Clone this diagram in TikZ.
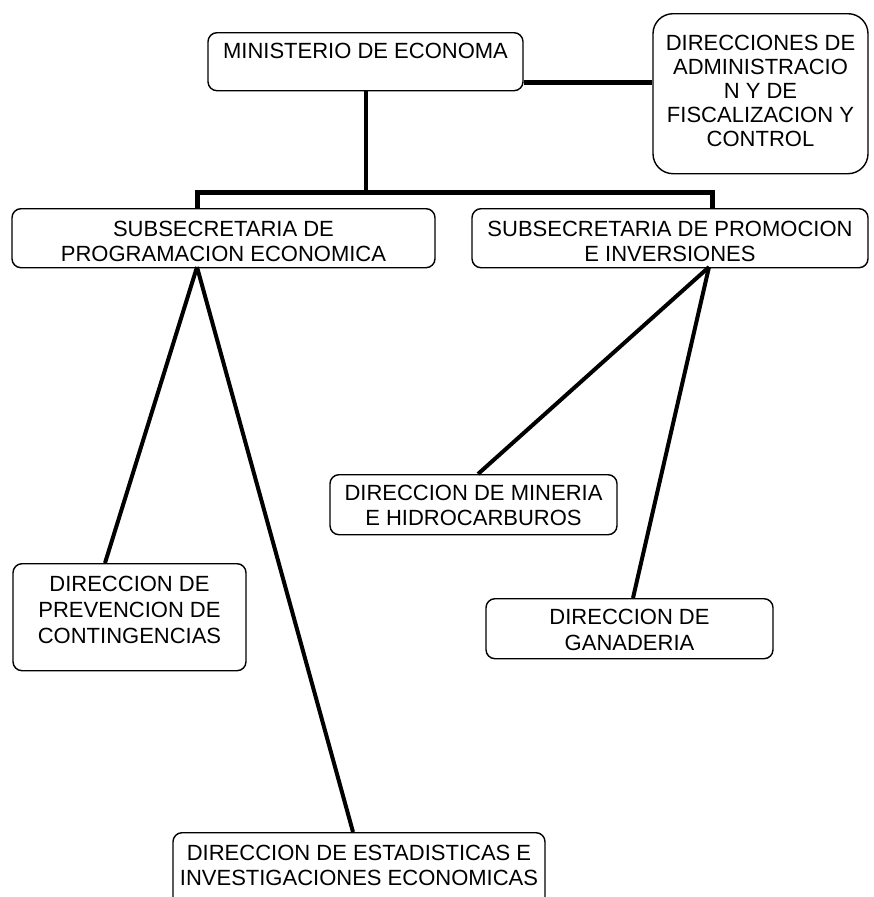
\documentclass[tikz,border=0pt]{standalone}
\usepackage{fontspec}
\setmainfont{Liberation Sans}
\begin{document}
\begin{tikzpicture}[x=1pt, y=-1pt,
  box/.style={draw=black, line width=1.4pt, rounded corners=9pt, align=center,
    inner xsep=4pt, inner ysep=0pt, anchor=north,
    font=\fontsize{22}{25}\selectfont},
  link/.style={draw=black, line width=4pt},
  bus/.style={draw=black, line width=5pt, line join=miter}]
\useasboundingbox (0,0) rectangle (873,897);

% boxes (text height runs from the top edge to the last baseline)
\node[box, minimum width=315pt, text height=26pt, text depth=32pt] (min) at (365.5,32)
  {MINISTERIO DE ECONOMA};
\node[box, minimum width=215pt, rounded corners=20pt, text height=133pt, text depth=27pt,
  font=\fontsize{22}{24}\selectfont] (dir) at (760.5,13)
  {DIRECCIONES DE\\ADMINISTRACIO\\N Y DE\\FISCALIZACION Y\\CONTROL};
\node[box, minimum width=423pt, text height=53pt, text depth=6pt] (sub1) at (223.5,208)
  {SUBSECRETARIA DE\\PROGRAMACION ECONOMICA};
\node[box, minimum width=396pt, text height=53pt, text depth=6pt] (sub2) at (670,208)
  {SUBSECRETARIA DE PROMOCION\\E INVERSIONES};
\node[box, minimum width=287pt, text height=51pt, text depth=9pt] (mine) at (473.5,474)
  {DIRECCION DE MINERIA\\E HIDROCARBUROS};
\node[box, minimum width=233pt, text height=80pt, text depth=27pt,
  font=\fontsize{22}{26}\selectfont] (prev) at (129.5,563)
  {DIRECCION DE\\PREVENCION DE\\CONTINGENCIAS};
\node[box, minimum width=287pt, text height=52pt, text depth=8pt,
  font=\fontsize{22}{26}\selectfont] (gan) at (629.5,598)
  {DIRECCION DE\\GANADERIA};
\node[box, minimum width=372pt, text height=53pt, text depth=50pt] (est) at (359,832)
  {DIRECCION DE ESTADISTICAS E\\INVESTIGACIONES ECONOMICAS};

% junction points of the bus
\coordinate (busL) at (197,192);
\coordinate (busR) at (712,192);
\coordinate (footL) at (197,267);
\coordinate (footR) at (709,267);

% connectors
\draw[link, line width=5pt] ([yshift=-21pt]min.east) -- ([yshift=-21pt]min.east -| dir.west);
\draw[link] (min.south) -- (min.south |- busL);
\draw[bus] (sub1.north -| busL) -- (busL) -- (busR) -- (sub2.north -| busR);
\draw[link] (footL) -- ([xshift=-24.5pt]prev.north);
\draw[link] (footL) -- ([xshift=-6pt]est.north);
\draw[link] (footR) -- ([xshift=4.5pt]mine.north);
\draw[link] (footR) -- ([xshift=3.5pt]gan.north);
\end{tikzpicture}
\end{document}
